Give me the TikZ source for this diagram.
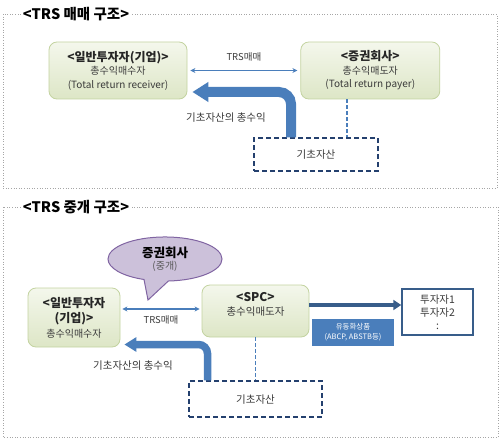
\documentclass[tikz,border=0pt]{standalone}
\usepackage{fontspec}
\setmainfont{Noto Sans CJK KR}
\usetikzlibrary{positioning, arrows.meta, shapes.callouts}
\definecolor{PanelGray}{HTML}{A6A6A6}
\definecolor{PartyEdge}{HTML}{C3D3A0}
\definecolor{PartyTop}{HTML}{F4F7EC}
\definecolor{PartyBottom}{HTML}{DDE6C6}
\definecolor{BodyGray}{HTML}{3A3A3A}
\definecolor{AssetBlue}{HTML}{24406E}
\definecolor{FlowBlue}{HTML}{4A7EBB}
\definecolor{FlowDark}{HTML}{385D8A}
\definecolor{BubbleFill}{HTML}{CCC1DA}
\definecolor{BubbleEdge}{HTML}{8064A2}
\newcommand{\partyfont}{\fontsize{12}{14}\selectfont\bfseries\color{black!85}}

\begin{document}
\begin{tikzpicture}[x=1pt, y=-1pt,
    panel/.style={draw=PanelGray, dotted, line width=0.6pt},
    heading/.style={fill=white, inner sep=2pt, font=\fontsize{14.5}{17}\selectfont\bfseries},
    party/.style={draw=PartyEdge, line width=0.8pt, rounded corners=8pt, top color=PartyTop, bottom color=PartyBottom, align=center, text=BodyGray, font=\fontsize{10}{13.5}\selectfont},
    asset/.style={draw=AssetBlue, dash pattern=on 5pt off 3pt, line width=1.4pt, text=BodyGray, font=\fontsize{10.5}{12}\selectfont},
    trade/.style={{Stealth[length=5pt,width=5pt]}-{Stealth[length=5pt,width=5pt]}, FlowBlue, line width=1.1pt},
    link/.style={FlowBlue, dash pattern=on 4pt off 2pt, line width=1.2pt},
    bigflow/.style={FlowBlue, line cap=butt},
    caption/.style={text=BodyGray, font=\fontsize{10.5}{12}\selectfont},
    bubble/.style={ellipse callout, draw=BubbleEdge, fill=BubbleFill, line width=1pt, minimum width=114pt, minimum height=44pt, align=center, callout pointer arc=25}
]
\useasboundingbox (0,0) rectangle (500,441);

% --- TRS 매매 구조 ---
\draw[panel] (3,14) rectangle (497,188);
\node[heading] (title1) at (76,14) {<TRS 매매 구조>};

\node[party, minimum width=138pt, minimum height=57pt] (recv) at (118,70.5)
    {{\partyfont <일반투자자(기업)>}\\총수익매수자\\(Total return receiver)};
\node[party, minimum width=139pt, minimum height=57pt, right=113pt of recv] (payer)
    {{\partyfont <증권회사>}\\총수익매도자\\(Total return payer)};
\node[asset, minimum width=124pt, minimum height=33pt] (base1) at (316,154.5) {기초자산};

\draw[trade] ([xshift=3pt]recv.east) -- ([xshift=-3pt]payer.west)
    node[caption, midway, above=5pt, font=\fontsize{9.5}{11}\selectfont] (deal1) {TRS매매};

\coordinate (bend1) at (291,92);
\draw[bigflow, line width=10pt, rounded corners=12pt, shorten >=5pt, -{Triangle[width=19pt,length=16pt]}]
    (bend1 |- base1.north) |- (recv.east |- bend1);
\node[caption] (ret1) at (226,118) {기초자산의 총수익};

\coordinate (drop1) at (347,0);
\draw[link] (drop1 |- payer.south) -- (drop1 |- base1.north);

% --- TRS 중개 구조 ---
\draw[panel] (3,207) rectangle (498,437);
\node[heading] (title2) at (76,207) {<TRS 중개 구조>};

\node[party, minimum width=92pt, minimum height=59pt, font=\fontsize{10}{15}\selectfont] (recv2) at (74,317.5)
    {{\partyfont <일반투자자}\\{\partyfont (기업)>}\\총수익매수자};
\node[party, minimum width=107pt, minimum height=52pt, font=\fontsize{10.5}{14}\selectfont] (spc) at (255.5,311)
    {{\partyfont <SPC>}\\총수익매도자\\\mbox{}};
\node[asset, minimum width=133pt, minimum height=36pt, below=43pt of spc] (base2) {기초자산};

\node[bubble, callout absolute pointer={(148,300)}] (broker) at (165,259)
    {{\fontsize{12.5}{15}\selectfont\bfseries 증권회사}\\{\color{BodyGray!85}\fontsize{10}{12}\selectfont (중개)}};

\coordinate (deal2) at ([yshift=2pt]spc.west);
\draw[trade] ([xshift=-2pt]deal2) -- ([xshift=2pt]deal2 -| recv2.east)
    node[caption, midway, below=3pt, font=\fontsize{9.5}{11}\selectfont] (deal2lbl) {TRS매매};

\coordinate (bend2) at (207.5,344.5);
\draw[bigflow, line width=7.5pt, rounded corners=9pt, shorten >=4pt, -{Triangle[width=14pt,length=12pt]}]
    (bend2 |- base2.north) |- (recv2.east |- bend2);
\node[caption] (ret2) at (133,366) {기초자산의 총수익};

\draw[link] (spc.south) -- (base2.north);

\node[draw=FlowDark, line width=1.5pt, fill=white, minimum width=71pt, minimum height=46pt, align=center,
    font=\fontsize{10.5}{13}\selectfont, text=BodyGray] (inv) at (437.5,312) {투자자1\\투자자2\\:};
\coordinate (out) at ([yshift=6pt]spc.east);
\draw[FlowDark, line width=3.5pt, -{Triangle[width=10pt,length=8pt]}] (out) -- (out -| inv.west);

\node[fill=FlowBlue, text=white, minimum width=82pt, minimum height=27pt, align=center,
    font=\fontsize{7.5}{10}\selectfont] (product) at (353,332.5) {유동화상품\\(ABCP, ABSTB등)};
\end{tikzpicture}
\end{document}
